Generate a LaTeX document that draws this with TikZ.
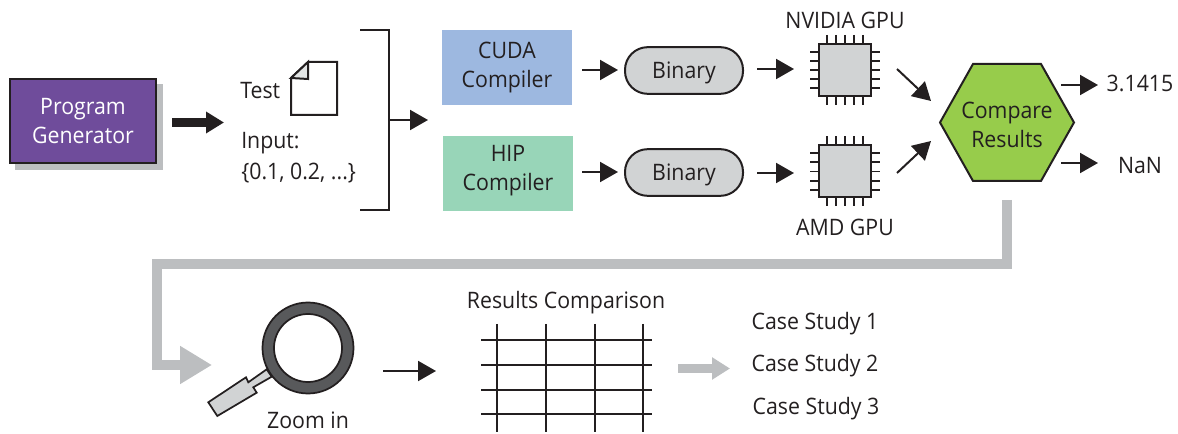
\documentclass[tikz,border=0pt]{standalone}
\usepackage{fontspec}
\setmainfont{Open Sans}[FakeStretch=0.94]
\usetikzlibrary{arrows.meta}
\definecolor{ink}{HTML}{231F20}
\definecolor{purp}{HTML}{6F4C9B}
\definecolor{shade}{HTML}{BCBEC0}
\definecolor{chipgray}{HTML}{D1D3D4}
\definecolor{cuda}{HTML}{9DB8E0}
\definecolor{hip}{HTML}{98D5B8}
\definecolor{hexg}{HTML}{97CC4B}
\definecolor{ringc}{HTML}{58595B}
\tikzset{
  x=0.75pt,y=-0.75pt,
  lbl/.style={text=ink,inner sep=0pt,align=center,font=\fontsize{17}{21.75}\selectfont},
  tarrow/.style={draw=ink,line width=1.5pt,-{Triangle[length=13.5pt,width=15pt]},shorten >=0pt},
  fatarrow/.style={draw=ink,line width=6.5pt,-{Triangle[length=13.5pt,width=15.5pt]}},
  grayarrow/.style={draw=shade,line width=6.8pt,-{Triangle[length=13.5pt,width=16pt]}},
  route/.style={draw=shade,line width=7.5pt,miter limit=10,-{Triangle[length=24pt,width=27pt]}},
  pen/.style={draw=ink,line width=1.5pt},
  pin/.style={draw=ink,line width=1.4pt},
  gridline/.style={draw=ink,line width=1.5pt},
  chipcore/.style={draw=ink,line width=1.5pt,fill=chipgray},
  genbox/.style={minimum width=110pt,minimum height=63.5pt,inner sep=0pt}
}
\newcommand{\chipat}[2]{%
  \foreach \d in {-18.4,-9.2,0,9.2,18.4}{
    \draw[pin] (#1+\d,#2-35) -- (#1+\d,#2+35);
    \draw[pin] (#1-35,#2+\d) -- (#1+35,#2+\d);
  }
  \draw[chipcore] (#1-26,#2-26) rectangle (#1+26,#2+26);
}
\begin{document}
\begin{tikzpicture}
\useasboundingbox (0,0) rectangle (1178,434);
% generator
\node[genbox,fill=shade,minimum width=111pt,minimum height=64.5pt] (genshadow) at (89,127) {};
\node[genbox,pen,fill=purp,text=white,align=center,font=\fontsize{17}{21.75}\selectfont] (gen) at (83,121) {Program\\Generator};
\coordinate (g1) at (172,122.5); \coordinate (g2) at (224,122.5);
\draw[fatarrow] (g1) -- (g2);
% test
\node[lbl,anchor=west] (test) at (240,91) {Test};
\draw[pen,fill=white] (291,78) -- (308,62) -- (337,62) -- (337,115) -- (291,115) -- cycle;
\draw[pen,fill=chipgray!60] (291,78) -- (308,62) -- (308,79) -- cycle;
\node[lbl,anchor=west] (input) at (241,143) {Input:};
\node[lbl,anchor=west] (vals) at (241,173) {\{0.1, 0.2, ...\}};
% bracket
\coordinate (b1) at (360,30); \coordinate (b2) at (389,30); \coordinate (b3) at (389,210); \coordinate (b4) at (360,210);
\draw[pen] (b1) -- (b2) -- (b3) -- (b4);
\coordinate (b5) at (389,120); \coordinate (b6) at (428,120);
\draw[tarrow] (b5) -- (b6);
% compilers
\node[fill=cuda,minimum width=97.5pt,minimum height=56.25pt,inner sep=0pt] (cudac) at (507,67.5) {};
\node[fill=hip,minimum width=97.5pt,minimum height=56.25pt,inner sep=0pt] (hipc) at (508,173.5) {};
\node[lbl] (cudat) at (507,67.5) {CUDA\\Compiler};
\node[lbl] (hipt) at (508,171) {HIP\\Compiler};
\coordinate (c1) at (582,70); \coordinate (c2) at (618,70);
\coordinate (h1) at (582,172); \coordinate (h2) at (618,172);
\draw[tarrow] (c1) -- (c2);
\draw[tarrow] (h1) -- (h2);
\node[pen,fill=chipgray,rounded corners=17pt,minimum width=88.5pt,minimum height=35pt,inner sep=0pt] (bin1) at (684,70.5) {};
\node[pen,fill=chipgray,rounded corners=17pt,minimum width=88.5pt,minimum height=35pt,inner sep=0pt] (bin2) at (684,172.5) {};
\node[lbl] (bint1) at (684,73) {Binary};
\node[lbl] (bint2) at (684,175) {Binary};
\coordinate (d1) at (757,69); \coordinate (d2) at (794,69);
\coordinate (e1) at (757,173); \coordinate (e2) at (794,173);
\draw[tarrow] (d1) -- (d2);
\draw[tarrow] (e1) -- (e2);
% chips
\chipat{845}{70}
\chipat{845}{171.5}
\node[lbl] (nv) at (845,20) {NVIDIA GPU};
\node[lbl] (amd) at (845,227) {AMD GPU};
\coordinate (f1) at (897,69); \coordinate (f2) at (931,101);
\coordinate (k1) at (897,173); \coordinate (k2) at (931,141);
\draw[tarrow] (f1) -- (f2);
\draw[tarrow] (k1) -- (k2);
% hexagon
\draw[pen,fill=hexg,line join=miter] (940,122.5) -- (973,64) -- (1041,64) -- (1074,122.5) -- (1041,181) -- (973,181) -- cycle;
\node[lbl] (cmp) at (1007,125) {Compare\\Results};
\coordinate (m1) at (1061,85); \coordinate (m2) at (1098,85);
\coordinate (n1) at (1061,163); \coordinate (n2) at (1098,163);
\draw[tarrow] (m1) -- (m2);
\draw[tarrow] (n1) -- (n2);
\node[lbl] (pi) at (1140,83) {3.1415};
\node[lbl] (nan) at (1140,166) {NaN};
% route
\coordinate (r1) at (1007,200); \coordinate (r2) at (1007,264); \coordinate (r3) at (157,264); \coordinate (r4) at (157,365); \coordinate (r5) at (212,365);
\draw[route] (r1) -- (r2) -- (r3) -- (r4) -- (r5);
% magnifier
\draw[draw=ink,line width=1.3pt,fill=chipgray,line join=miter] (208.3,402.3) -- (246,377.3) -- (248.3,382.3) -- (266.7,369.3) -- (271.7,376.7) -- (253.3,387.3) -- (256.7,392.7) -- (217.3,416) -- cycle;
\draw[draw=ink,line width=1.3pt,fill=ringc,even odd rule] (308,348) circle (45.5) (308,348) circle (34);
\node[lbl] (zoom) at (308,420) {Zoom in};
\coordinate (z1) at (383,371); \coordinate (z2) at (436,371);
\draw[tarrow] (z1) -- (z2);
% table
\node[lbl] (rc) at (566,303) {Results Comparison};
\foreach \gx in {497,546,595,643} \draw[gridline] (\gx,324) -- (\gx,432);
\foreach \gy in {340,365,390,414} \draw[gridline] (481,\gy) -- (652,\gy);
\coordinate (t1) at (678,368.5); \coordinate (t2) at (730,368.5);
\draw[grayarrow] (t1) -- (t2);
\node[lbl] (cs1) at (815,324) {Case Study 1};
\node[lbl] (cs2) at (815,366) {Case Study 2};
\node[lbl] (cs3) at (816,409) {Case Study 3};
\end{tikzpicture}
\end{document}
